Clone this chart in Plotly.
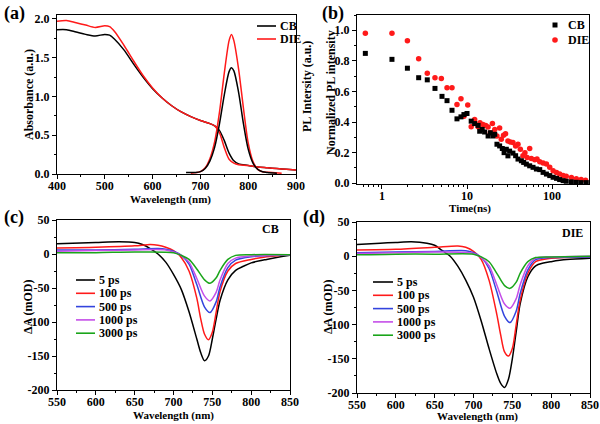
import plotly.graph_objects as go

# ---------------- data ----------------
# (a) absorbance + PL
abs_wl = [400, 420, 440, 460, 480, 500, 510, 520, 540, 560, 580, 600, 620, 640, 660, 680, 700, 720, 730, 740, 750, 760, 770, 780, 800, 820, 840, 860, 880, 900]
abs_cb = [1.86, 1.86, 1.83, 1.80, 1.78, 1.80, 1.79, 1.74, 1.60, 1.42, 1.25, 1.10, 0.98, 0.88, 0.80, 0.74, 0.69, 0.65, 0.62, 0.56, 0.43, 0.27, 0.17, 0.13, 0.11, 0.09, 0.08, 0.07, 0.06, 0.05]
abs_die = [1.97, 1.98, 1.95, 1.92, 1.89, 1.91, 1.90, 1.84, 1.66, 1.46, 1.27, 1.11, 0.98, 0.88, 0.80, 0.74, 0.69, 0.65, 0.62, 0.53, 0.34, 0.19, 0.14, 0.12, 0.11, 0.09, 0.08, 0.07, 0.06, 0.05]
pl_wl_cb = [670, 690, 700, 710, 720, 730, 740, 750, 760, 765, 770, 780, 790, 800, 810, 820, 830, 840, 860]
pl_cb = [0.02, 0.02, 0.03, 0.07, 0.17, 0.35, 0.65, 1.02, 1.32, 1.37, 1.33, 1.05, 0.65, 0.32, 0.14, 0.06, 0.03, 0.02, 0.01]
pl_wl_die = [680, 700, 710, 720, 730, 740, 750, 760, 765, 770, 780, 790, 800, 810, 820, 830, 850, 870]
pl_die = [0.01, 0.03, 0.08, 0.20, 0.42, 0.80, 1.30, 1.72, 1.80, 1.72, 1.35, 0.85, 0.40, 0.16, 0.06, 0.03, 0.02, 0.01]

# (b) PL decay
t_cb = [0.637, 1.31, 1.99, 2.70, 3.41, 4.2, 5.08, 5.82, 6.66, 7.62, 8.49, 9.2, 10.0, 11.2, 12.3, 13.5, 14.1, 15.1, 16.1, 17.7, 18.8, 20.2, 21.2, 22.5, 24.2, 26.0, 27.3, 29.0, 30.3, 31.7, 34.7, 37.3, 39.8, 43.6, 46.4, 49.9, 54.6, 59.8, 65.5, 71.7, 78.5, 85.9, 94.0, 103, 113, 123, 135, 147, 169, 193, 220, 253]
pl_t_cb = [0.849, 0.81, 0.752, 0.69, 0.676, 0.62, 0.568, 0.54, 0.477, 0.421, 0.434, 0.449, 0.456, 0.406, 0.39, 0.378, 0.34, 0.352, 0.335, 0.309, 0.33, 0.309, 0.32, 0.255, 0.244, 0.227, 0.20, 0.222, 0.179, 0.21, 0.197, 0.18, 0.158, 0.147, 0.136, 0.125, 0.114, 0.104, 0.093, 0.089, 0.071, 0.06, 0.05, 0.039, 0.032, 0.024, 0.017, 0.013, 0.009, 0.006, 0.004, 0.004]
t_die = [0.637, 1.31, 1.99, 2.70, 3.41, 4.2, 4.99, 5.82, 6.66, 7.62, 8.49, 9.2, 10.2, 11.2, 12.3, 13.5, 14.2, 15.4, 16.6, 17.7, 18.8, 19.9, 21.2, 22.5, 24.2, 25.3, 26.9, 28.4, 30.3, 32.3, 34.7, 37.3, 39.8, 42.4, 45.5, 48.0, 50.9, 54.6, 57.1, 62.6, 66.6, 71.7, 78.5, 85.9, 94.0, 103, 113, 123, 135, 147, 169, 193, 220, 248]
pl_t_die = [0.981, 0.981, 0.931, 0.814, 0.719, 0.689, 0.685, 0.624, 0.624, 0.514, 0.553, 0.438, 0.512, 0.369, 0.417, 0.369, 0.395, 0.384, 0.378, 0.367, 0.33, 0.391, 0.352, 0.309, 0.361, 0.287, 0.313, 0.324, 0.276, 0.27, 0.266, 0.244, 0.255, 0.222, 0.179, 0.20, 0.168, 0.227, 0.162, 0.153, 0.158, 0.14, 0.132, 0.125, 0.104, 0.082, 0.071, 0.06, 0.05, 0.045, 0.037, 0.03, 0.024, 0.019]

# (c) TA CB
ta_labels = ["5 ps", "100 ps", "500 ps", "1000 ps", "3000 ps"]
c_wl_5 = [550, 600, 630, 650, 660, 670, 680, 690, 700, 710, 720, 730, 735, 740, 745, 750, 755, 760, 770, 780, 790, 800, 820, 850]
c_5 = [15, 17, 18, 17, 14, 8, 0, -12, -30, -52, -85, -125, -145, -157, -150, -125, -95, -68, -38, -24, -18, -13, -8, -2]
c_wl_100 = [550, 600, 650, 670, 680, 690, 700, 710, 720, 730, 735, 740, 745, 750, 755, 760, 770, 780, 800, 820, 850]
c_100 = [9, 10, 12, 14, 13, 10, 5, -5, -25, -65, -95, -118, -126, -115, -85, -55, -25, -14, -8, -4, -1]
c_wl_500 = [550, 600, 650, 680, 690, 700, 710, 720, 730, 740, 747, 755, 760, 770, 780, 800, 850]
c_500 = [6, 6, 7, 8, 7, 4, -2, -15, -45, -78, -86, -70, -48, -20, -9, -4, -1]
c_wl_1000 = [550, 600, 650, 690, 700, 710, 720, 730, 740, 747, 755, 760, 770, 780, 800, 850]
c_1000 = [4, 5, 6, 6, 3, -2, -12, -36, -62, -69, -56, -38, -14, -6, -3, -1]
c_wl_3000 = [550, 600, 650, 700, 710, 720, 730, 740, 747, 755, 760, 770, 780, 800, 850]
c_3000 = [2, 2, 3, 2, -2, -8, -22, -38, -43, -35, -24, -8, -2, -1, -1]

# (d) TA DIE
d_wl_5 = [550, 580, 600, 620, 640, 650, 660, 670, 680, 690, 700, 710, 720, 730, 735, 740, 745, 750, 755, 760, 770, 780, 790, 800, 820, 850]
d_5 = [17, 19, 20, 21, 19, 16, 8, 0, -15, -35, -60, -95, -135, -172, -186, -192, -180, -150, -110, -70, -30, -14, -10, -8, -5, -3]
d_wl_100 = [550, 600, 650, 680, 690, 700, 710, 720, 730, 735, 740, 745, 750, 755, 760, 770, 780, 800, 850]
d_100 = [9, 10, 13, 15, 13, 7, -5, -35, -85, -115, -140, -146, -135, -100, -65, -25, -8, -3, -1]
d_wl_500 = [550, 600, 650, 690, 700, 710, 720, 730, 740, 747, 755, 760, 770, 780, 800, 850]
d_500 = [5, 6, 7, 8, 5, -2, -18, -52, -88, -97, -80, -55, -20, -5, -2, -1]
d_wl_1000 = [550, 600, 650, 700, 710, 720, 730, 740, 747, 755, 760, 770, 780, 800, 850]
d_1000 = [4, 5, 6, 4, -2, -14, -42, -70, -76, -62, -42, -14, -3, -1, 0]
d_wl_3000 = [550, 600, 650, 700, 710, 720, 730, 740, 747, 755, 760, 770, 780, 800, 850]
d_3000 = [2, 3, 3, 3, -1, -8, -25, -43, -47, -38, -25, -8, -2, -1, 0]

ta_colors = ["#000000", "#ff1a1a", "#3344dd", "#c44ee8", "#1aa51a"]

# tick values / labels
a_xticks = [400, 500, 600, 700, 800, 900]
a_yticks = [0.0, 0.5, 1.0, 1.5, 2.0]
b_xticks = [1, 10, 100]
b_xminor = [0.6, 0.7, 0.8, 0.9, 2, 3, 4, 5, 6, 7, 8, 9, 20, 30, 40, 50, 60, 70, 80, 90, 200]
b_yticks = [0.0, 0.2, 0.4, 0.6, 0.8, 1.0]
cd_xticks = [550, 600, 650, 700, 750, 800, 850]
cd_yticks = [-200, -150, -100, -50, 0, 50]

# ---------------- figure ----------------
W, H = 600, 424
def P(x): return x / W
def Q(y): return 1 - y / H

FONT = "Liberation Serif"
fig = go.Figure()

def line(x, y, color, xa, ya, w=1.5):
    fig.add_trace(go.Scatter(x=x, y=y, mode="lines", line=dict(color=color, width=w, shape="spline", smoothing=0.8),
                             xaxis=xa, yaxis=ya, showlegend=False, hoverinfo="skip"))

# (a)
line(abs_wl, abs_cb, "#000000", "x", "y")
line(abs_wl, abs_die, "#ff1a1a", "x", "y")
line(pl_wl_die, pl_die, "#ff1a1a", "x", "y")
line(pl_wl_cb, pl_cb, "#000000", "x", "y")

# (b)
fig.add_trace(go.Scatter(x=t_die, y=pl_t_die, mode="markers", marker=dict(symbol="circle", size=5.5, color="#ff1a1a"),
                         xaxis="x2", yaxis="y2", showlegend=False))
fig.add_trace(go.Scatter(x=t_cb, y=pl_t_cb, mode="markers", marker=dict(symbol="square", size=5, color="#000000"),
                         xaxis="x2", yaxis="y2", showlegend=False))

# (c)
c_sets = [(c_wl_5, c_5), (c_wl_100, c_100), (c_wl_500, c_500), (c_wl_1000, c_1000), (c_wl_3000, c_3000)]
for (x, y), col in zip(c_sets, ta_colors):
    line(x, y, col, "x3", "y3")
# (d)
d_sets = [(d_wl_5, d_5), (d_wl_100, d_100), (d_wl_500, d_500), (d_wl_1000, d_1000), (d_wl_3000, d_3000)]
for (x, y), col in zip(d_sets, ta_colors):
    line(x, y, col, "x4", "y4")

tickfont = dict(family=FONT, size=12, color="black")
axcommon = dict(showgrid=False, zeroline=False, showline=True, linecolor="black", linewidth=1.2, mirror=True,
                ticks="outside", ticklen=4, tickwidth=1, tickcolor="black", tickfont=tickfont,
                automargin=False, tickmode="array")
xcommon = dict(ticklabelstandoff=-4, **axcommon)

def lab(vals, fmt):
    return ["<b>" + format(v, fmt) + "</b>" for v in vals]

def minor(dt):
    return dict(dtick=dt, ticks="outside", ticklen=2, tickcolor="black", tickwidth=1)

fig.update_layout(
    template="none",
    width=W, height=H, margin=dict(l=0, r=0, t=0, b=0, autoexpand=False),
    paper_bgcolor="white", plot_bgcolor="white", showlegend=False,
    xaxis=dict(domain=[P(57), P(296)], range=[400, 900], tickvals=a_xticks, ticktext=lab(a_xticks, "d"), anchor="y",
               minor=minor(50), **xcommon),
    yaxis=dict(domain=[Q(174), Q(15)], range=[0, 2.05], tickvals=a_yticks, ticktext=lab(a_yticks, ".1f"), anchor="x",
               minor=minor(0.25), **axcommon),
    xaxis2=dict(domain=[P(357), P(589)], type="log", range=[-0.294, 2.435], tickvals=b_xticks, ticktext=lab(b_xticks, "d"),
                anchor="y2", minor=dict(tickmode="array", tickvals=b_xminor, ticks="outside", ticklen=2, tickcolor="black", tickwidth=1),
                **xcommon),
    yaxis2=dict(domain=[Q(184), Q(15)], range=[-0.005, 1.1], tickvals=b_yticks, ticktext=lab(b_yticks, ".1f"), anchor="x2",
                minor=minor(0.1), **axcommon),
    xaxis3=dict(domain=[P(57), P(290)], range=[550, 850], tickvals=cd_xticks, ticktext=lab(cd_xticks, "d"), anchor="y3",
                minor=minor(25), **xcommon),
    yaxis3=dict(domain=[Q(390), Q(220)], range=[-200, 50], tickvals=cd_yticks, ticktext=lab(cd_yticks, "d"), anchor="x3",
                minor=minor(25), **axcommon),
    xaxis4=dict(domain=[P(357), P(590)], range=[550, 850], tickvals=cd_xticks, ticktext=lab(cd_xticks, "d"), anchor="y4",
                minor=minor(25), **xcommon),
    yaxis4=dict(domain=[Q(393), Q(222)], range=[-200, 50], tickvals=cd_yticks, ticktext=lab(cd_yticks, "d"), anchor="x4",
                minor=minor(25), **axcommon),
)

def text(x, y, s, size=12, angle=0, xanchor="center", yanchor="middle"):
    fig.add_annotation(x=P(x), y=Q(y), xref="paper", yref="paper", text="<b>" + s + "</b>", showarrow=False,
                       textangle=angle, xanchor=xanchor, yanchor=yanchor,
                       font=dict(family=FONT, size=size, color="black"))

# panel labels
text(2, 13, "(a)", 18, xanchor="left")
text(320, 13, "(b)", 18, xanchor="left")
text(2, 217, "(c)", 18, xanchor="left")
text(301, 217, "(d)", 18, xanchor="left")

# axis titles
text(170, 199, "Wavelength (nm)", 11)
text(29, 95, "Absorbance (a.u.)", angle=-90)
text(470, 208, "Time(ns)", 11)
text(331, 93, "Normalized PL intensity", angle=-90)
text(307, 87, "PL Intersity (a.u.)", angle=-90)
text(173, 415, "Wavelength (nm)", 11)
text(28, 307, "\u0394A (mOD)", angle=-90)
text(477, 416.5, "Wavelength (nm)", 11)
text(328, 307, "\u0394A (mOD)", angle=-90)
text(270, 229, "CB")
text(572, 233, "DIE")

# legends (drawn manually to match compact spacing)
def legline(x0, x1, y, color):
    fig.add_shape(type="line", xref="paper", yref="paper", x0=P(x0), x1=P(x1), y0=Q(y), y1=Q(y),
                  line=dict(color=color, width=1.6))

for name, col, y in [("CB", "#000000", 26), ("DIE", "#ff1a1a", 39)]:
    legline(257, 276, y, col)
    text(278, y, name, xanchor="left")

fig.add_shape(type="rect", xref="paper", yref="paper", x0=P(552.5), x1=P(557.5), y0=Q(27.5), y1=Q(22.5),
              fillcolor="#000000", line=dict(width=0))
text(566, 25, "CB", xanchor="left")
fig.add_shape(type="circle", xref="paper", yref="paper", x0=P(552.2), x1=P(557.8), y0=Q(42.8), y1=Q(37.2),
              fillcolor="#ff1a1a", line=dict(width=0))
text(566, 40, "DIE", xanchor="left")

for i, (lb, col) in enumerate(zip(ta_labels, ta_colors)):
    yc = 280 + i * 13.3
    legline(76, 95, yc, col)
    text(97, yc, lb, xanchor="left")
    yd = 282 + i * 13.3
    legline(373, 393, yd, col)
    text(395, yd, lb, xanchor="left")

fig.write_html("out.html", config={"displayModeBar": False},
               post_script="document.body.style.margin='0';document.body.style.padding='0';document.body.style.overflow='hidden';")
